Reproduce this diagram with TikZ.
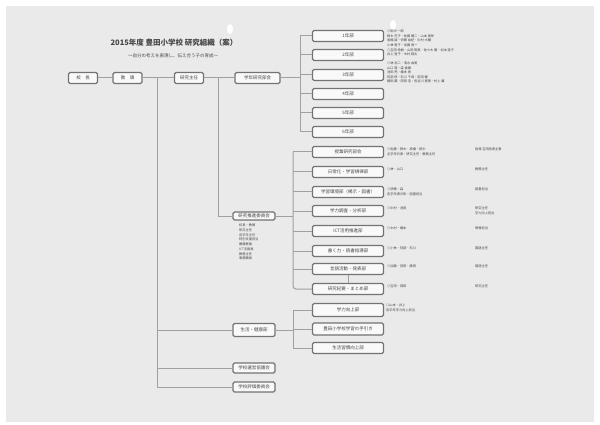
\documentclass[tikz,border=0pt]{standalone}
\usepackage{fontspec}
\setmainfont{Noto Sans CJK JP}
\definecolor{paper}{RGB}{234, 234, 234}
\definecolor{inkline}{RGB}{160, 160, 160}
\definecolor{inkbox}{RGB}{115, 115, 115}
\definecolor{inktext}{RGB}{70, 70, 70}
\usetikzlibrary{positioning, calc}

\begin{document}
\begin{tikzpicture}[x=1pt, y=-1pt,
  obox/.style={draw=inkbox, line width=1.4pt, rounded corners=1.5pt, fill=white!70!paper, inner sep=0pt, minimum height=11pt, text=inktext, font=\fontsize{4.5}{5}\selectfont},
  sbox/.style={obox, minimum width=29pt},
  mbox/.style={obox, minimum width=42pt},
  wbox/.style={obox, minimum width=71pt},
  note/.style={anchor=north west, align=left, inner sep=0pt, text=inktext, font=\fontsize{3.2}{4.4}\selectfont},
  link/.style={draw=inkline, line width=1pt}
]
  % paper
  \useasboundingbox (0,0) rectangle (600,425);
  \fill[white] (0,0) rectangle (600,425);
  \fill[paper] (6,6) rectangle (594,422);
  \fill[white] (230,29) ellipse (3 and 5);
  \fill[white] (393,25) ellipse (3 and 5);

  % title
  \node[text=inktext, font=\fontsize{7.5}{8}\selectfont\bfseries] (title) at (174,43) {2015年度\ 豊田小学校\ 研究組織（案）};
  \node[text=inktext, font=\fontsize{4.5}{5}\selectfont] (subtitle) at (173,56) {〜自分の考えを表現し、伝え合う子の育成〜};

  % top row
  \node[sbox] (kocho) at (83,78) {校　長};
  \node[sbox] (kyoto) at (127.5,78) {教　頭};
  \node[sbox] (shunin) at (189,78) {研究主任};
  \node[mbox, minimum width=45pt] (gakunen) at (257.5,78) {学年研究部会};
  \draw[link] (kocho) -- (kyoto);
  \draw[link] (kyoto) -- (shunin);
  \draw[link] (shunin) -- (gakunen);

  % grade boxes
  \coordinate (gbus) at (300,78);
  \foreach \i/\y in {1/36, 2/55, 3/75, 4/94, 5/113, 6/132} {
    \node[wbox] (g\i) at (348,\y) {\i 年部};
    \draw[link] (gbus |- g\i.west) -- (g\i.west);
  }
  \draw[link] (gakunen.east) -- (gbus);
  \draw[link] (gbus |- g1.west) -- (gbus |- g6.west);
  \node[note] (g1note) at (387,30) {◎田中 一郎\\鈴木 花子・佐藤 健二・山本 美咲\\高橋 誠・伊藤 由紀・中村 大輔\\小林 恵子・加藤 真一};
  \node[note] (g2note) at (387,48.5) {◎吉田 秀樹・山田 明美・佐々木 優・松本 直子\\井上 智子・木村 翔太};
  \node[note] (g3note) at (387,62) {◎林 浩二・清水 由美\\山口 隆・森 香織\\池田 亮・橋本 恵\\阿部 修・石川 千尋・前田 健\\藤田 薫・岡田 浩・長谷川 恵美・村上 翼};

  % research committee
  \coordinate (split) at (218,78);
  \node[mbox, minimum height=8pt] (suishin) at (254,216) {研究推進委員会};
  \draw[link] (split) |- (suishin.west);
  \node[note, font=\fontsize{3.2}{4.7}\selectfont] (members) at (239,224) {校長・教頭\\研究主任\\各学年主任\\特別支援担当\\養護教諭\\ICT支援員\\教務主任\\事務職員};

  \coordinate (cbus) at (293,216);
  \foreach \i/\y/\t in {1/152/授業研究部会, 2/172/日常化・学習規律部, 3/192/学習環境部（掲示・図書）, 4/211/学力調査・分析部, 5/231/ICT活用推進部, 6/251/書く力・読書指導部, 7/269/言語活動・発表部, 8/289/研究紀要・まとめ部} {
    \node[wbox] (c\i) at (348,\y) {\t};
  }
  \draw[link] (suishin.east) -- (cbus);
  \foreach \i in {1,...,7} {
    \draw[link] (cbus |- c\i.west) -- (c\i.west);
  }
  \draw[link, rounded corners=3pt] (cbus |- c1.west) -- (cbus |- c8.west) -- (c8.west);
  \draw[link] (c7.south) -- (c8.north);

  \node[note] (c1note) at (387,148) {◎佐藤・鈴木・高橋・田中\\全学年代表・研究主任・教務主任};
  \node[note] (c2note) at (387,168) {◎林・山口};
  \node[note] (c3note) at (387,188) {◎伊藤・森\\各学年掲示係・図書担当};
  \node[note] (c4note) at (387,207) {◎中村・池田};
  \node[note] (c5note) at (387,227) {◎木村・橋本};
  \node[note] (c6note) at (387,247) {◎小林・阿部・石川};
  \node[note] (c7note) at (387,265) {◎加藤・前田・藤田};
  \node[note] (c8note) at (387,285) {◎吉田・岡田};
  \node[note] (c1side) at (475,148) {指導 吉田指導主事};
  \node[note] (c2side) at (475,168) {教務主任};
  \node[note] (c3side) at (475,188) {図書担当};
  \node[note] (c4side) at (475,207) {研究主任\\学力向上担当};
  \node[note] (c5side) at (475,227) {情報担当};
  \node[note] (c6side) at (475,247) {国語主任};
  \node[note] (c7side) at (475,265) {国語主任};
  \node[note] (c8side) at (475,285) {研究主任};

  % left trunk
  \coordinate (trunk) at (157,78);
  \node[mbox, minimum height=13pt] (seikatsu) at (254,330) {生活・健康部};
  \node[mbox, minimum height=10pt] (unei) at (254,368) {学校運営協議会};
  \node[mbox, minimum height=10pt] (hyoka) at (254,387) {学校評価委員会};
  \draw[link] (trunk) |- (hyoka.west);
  \draw[link] (trunk |- seikatsu.west) -- (seikatsu.west);
  \draw[link] (trunk |- unei.west) -- (unei.west);

  % bottom group
  \coordinate (bbus) at (293,330);
  \node[wbox, minimum height=13pt] (b1) at (348,310) {学力向上部};
  \node[wbox, minimum height=12pt] (b2) at (348,329) {豊田小学校学習の手引き};
  \node[wbox, minimum height=11pt] (b3) at (348,348) {生活習慣向上部};
  \draw[link] (seikatsu.east) -- (bbus);
  \draw[link] (bbus |- b1.west) -- (bbus |- b3.west);
  \foreach \i in {1,2,3} {
    \draw[link] (bbus |- b\i.west) -- (b\i.west);
  }
  \node[note] (b1note) at (386,304) {◎山本・井上\\各学年学力向上担当};
\end{tikzpicture}
\end{document}
